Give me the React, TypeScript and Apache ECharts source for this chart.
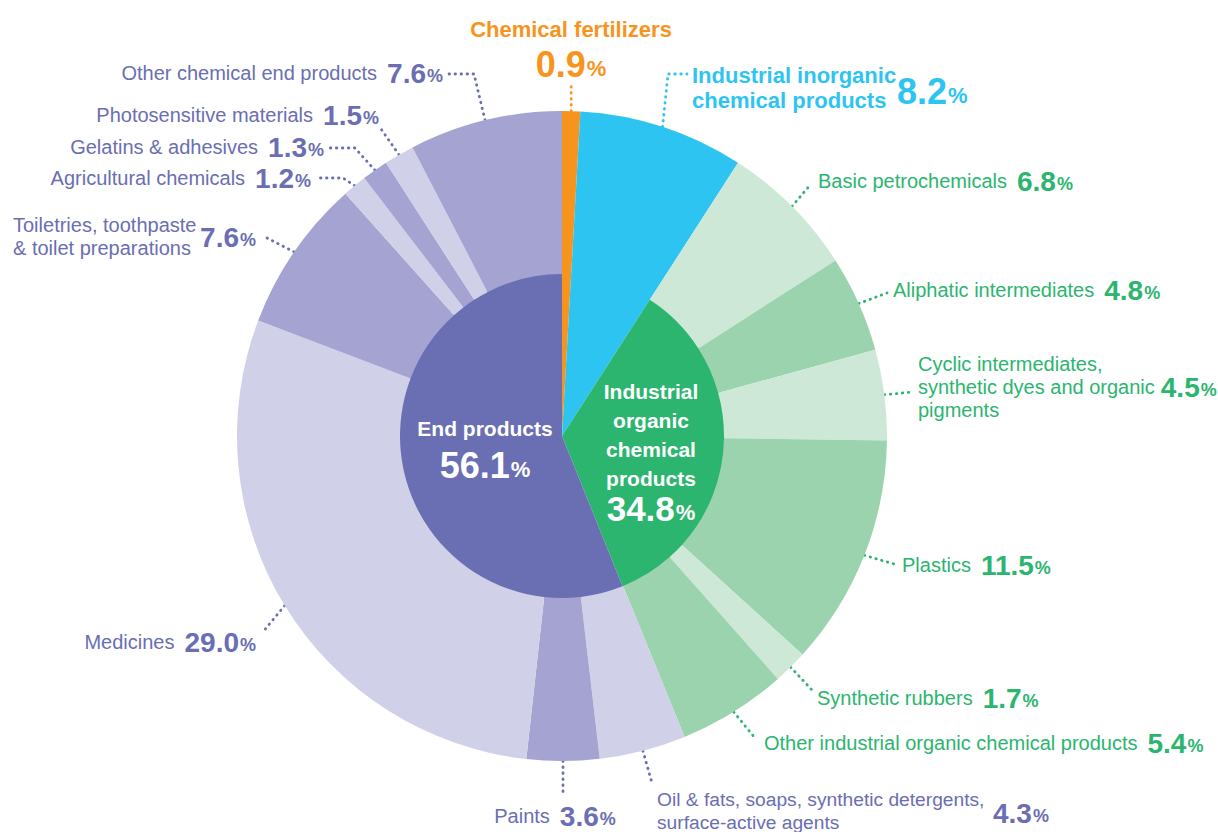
import React, { useEffect, useRef } from 'react';
import * as echarts from 'echarts';

// ---------- data ----------
const innerNames = [
  'Chemical fertilizers',
  'Industrial inorganic chemical products',
  'Industrial\norganic\nchemical\nproducts',
  'End products',
];
const innerValues = [0.9, 8.2, 34.8, 56.1];

const outerNames = [
  'Chemical fertilizers',
  'Industrial inorganic\nchemical products',
  'Basic petrochemicals',
  'Aliphatic intermediates',
  'Cyclic intermediates,\nsynthetic dyes and organic\npigments',
  'Plastics',
  'Synthetic rubbers',
  'Other industrial organic chemical products',
  'Oil & fats, soaps, synthetic detergents,\nsurface-active agents',
  'Paints',
  'Medicines',
  'Toiletries, toothpaste\n& toilet preparations',
  'Agricultural chemicals',
  'Gelatins & adhesives',
  'Photosensitive materials',
  'Other chemical end products',
];
const outerValues = [0.9, 8.2, 6.8, 4.8, 4.5, 11.5, 1.7, 5.4, 4.3, 3.6, 29.0, 7.6, 1.2, 1.3, 1.5, 7.6];
const outerGroups = ['fert', 'inorg', 'org', 'org', 'org', 'org', 'org', 'org', 'end', 'end', 'end', 'end', 'end', 'end', 'end', 'end'];

// ---------- styles ----------
const FONT = "'Liberation Sans', Arial, sans-serif";
const GROUP_COLOR: Record<string, string> = {
  fert: '#f7941d',
  inorg: '#2ec4f2',
  org: '#2bb56f',
  end: '#6a6eb2',
};
const SHADE_COLOR: Record<string, string> = {
  orgLight: '#cee8d7',
  orgMid: '#9ad3ae',
  endLight: '#d0d0e8',
  endMid: '#a4a3d1',
};
const outerShade = ['', '', 'Light', 'Mid', 'Light', 'Mid', 'Light', 'Mid', 'Light', 'Mid', 'Light', 'Mid', 'Light', 'Mid', 'Light', 'Mid'];
const innerTextColor = '#ffffff';

// label layout (positions of annotation texts and leader elbows)
type Pos = {
  x: number; y: number; align: string; pts?: number[][]; vert?: number; mode: string;
  valueLine?: number; gap?: number; nSize?: number;
};
const LABEL_POS: Pos[] = [
  { mode: 'title', x: 571, y: 48, align: 'center', vert: 82 },
  { mode: 'split', x: 692, y: 87.5, align: 'left', pts: [[668, 74], [687, 74]] },
  { mode: 'inline', x: 818, y: 181, align: 'left', pts: [[811, 184]] },
  { mode: 'inline', x: 893, y: 290, align: 'left', pts: [[887, 293]] },
  { mode: 'inline', x: 918, y: 387, align: 'left', pts: [[913, 392]], valueLine: 1, gap: 6 },
  { mode: 'inline', x: 902, y: 565, align: 'left', pts: [[894, 564]] },
  { mode: 'inline', x: 817, y: 698, align: 'left', pts: [[812, 690]] },
  { mode: 'inline', x: 764, y: 743, align: 'left', pts: [[755, 738]] },
  { mode: 'split', x: 657, y: 811, align: 'left', pts: [[652, 783]], nSize: 19.2 },
  { mode: 'inline', x: 555, y: 816, align: 'center', vert: 795 },
  { mode: 'inline', x: 256, y: 642, align: 'right', pts: [[262, 633]] },
  { mode: 'split', x: 13, y: 236, align: 'left', pts: [[265, 237]] },
  { mode: 'inline', x: 311, y: 178, align: 'right', pts: [[343, 178], [317, 178]] },
  { mode: 'inline', x: 324, y: 147, align: 'right', pts: [[355, 148], [329, 148]] },
  { mode: 'inline', x: 379, y: 115, align: 'right', pts: [[381, 129]] },
  { mode: 'inline', x: 443, y: 73, align: 'right', pts: [[474, 74], [448, 74]] },
];
const VALUE_POS: Record<number, { x: number; y: number; align: string }> = {
  1: { x: 897, y: 91, align: 'left' },
  8: { x: 993, y: 813, align: 'left' },
  11: { x: 256, y: 237, align: 'right' },
};
const INNER_POS: Record<number, { x: number; y: number }> = {
  2: { x: 651, y: 451 },
  3: { x: 485, y: 450 },
};

const CENTER = [562, 436];

function smallRich(color: string, gap = 10, nSize = 20) {
  return {
    n: { fontFamily: FONT, fontSize: nSize, color, lineHeight: 23 },
    v: { fontFamily: FONT, fontSize: 28, fontWeight: 'bold', color, lineHeight: 23, padding: [0, 0, 0, gap] },
    v0: { fontFamily: FONT, fontSize: 28, fontWeight: 'bold', color, lineHeight: 23 },
    p: { fontFamily: FONT, fontSize: 18, fontWeight: 'bold', color, lineHeight: 17, padding: [6, 0, 0, 1] },
  };
}
function bigRich(color: string, tSize: number, tLH: number, vSize: number, vLH: number) {
  return {
    t: { fontFamily: FONT, fontSize: tSize, fontWeight: 'bold', color, lineHeight: tLH },
    bv: { fontFamily: FONT, fontSize: vSize, fontWeight: 'bold', color, lineHeight: vLH },
    bp: { fontFamily: FONT, fontSize: 22, fontWeight: 'bold', color, lineHeight: vLH - 9, padding: [9, 0, 0, 1] },
  };
}

function fmt(v: number) {
  return v.toFixed(1);
}

function outerLabelText(i: number) {
  const pos = LABEL_POS[i];
  const lines = outerNames[i].split('\n');
  const val = fmt(outerValues[i]);
  if (pos.mode === 'title') {
    return lines.map((l) => `{t|${l}}`).join('\n') + `\n{bv|${val}}{bp|%}`;
  }
  if (pos.mode === 'split') {
    const key = outerGroups[i] === 'inorg' ? 't' : 'n';
    return lines.map((l) => `{${key}|${l}}`).join('\n');
  }
  const vl = pos.valueLine != null ? pos.valueLine : lines.length - 1;
  return lines
    .map((l, k) => (k === vl ? `{n|${l}}{v|${val}}{p|%}` : `{n|${l}}`))
    .join('\n');
}

function outerFill(i: number) {
  const g = outerGroups[i];
  if (g === 'fert' || g === 'inorg') return GROUP_COLOR[g];
  return SHADE_COLOR[g + outerShade[i]];
}

function outerRich(i: number) {
  const g = outerGroups[i];
  const c = GROUP_COLOR[g];
  const pos = LABEL_POS[i];
  if (g === 'fert') return bigRich(c, 22, 32, 36, 38);
  if (g === 'inorg') return bigRich(c, 22, 25, 36, 38);
  return smallRich(c, pos.gap != null ? pos.gap : 10, pos.nSize != null ? pos.nSize : 20);
}

const dotted = { type: [0.5, 5.5], width: 2.8, cap: 'round' };

function buildOption() {
  const innerData = innerNames.map((name, i) => {
    const g = ['fert', 'inorg', 'org', 'end'][i];
    const showLabel = INNER_POS[i] != null;
    const big = i === 3 ? bigRich(innerTextColor, 21, 30, 36, 44) : bigRich(innerTextColor, 21, 28.7, 35, 32);
    return {
      name,
      value: innerValues[i],
      itemStyle: { color: GROUP_COLOR[g] },
      label: showLabel
        ? {
            show: true,
            formatter: name.split('\n').map((l) => `{t|${l}}`).join('\n') + `\n{bv|${fmt(innerValues[i])}}{bp|%}`,
            rich: big,
          }
        : { show: false },
    };
  });

  const outerData = outerNames.map((name, i) => ({
    name,
    value: outerValues[i],
    itemStyle: { color: outerFill(i) },
    label: { show: true, formatter: outerLabelText(i), rich: outerRich(i) },
    labelLine: { show: true, lineStyle: { ...dotted, color: GROUP_COLOR[outerGroups[i]] } },
  }));

  const valueData = outerNames.map((name, i) => {
    const g = outerGroups[i];
    const c = GROUP_COLOR[g];
    const show = VALUE_POS[i] != null;
    return {
      name,
      value: outerValues[i],
      label: show
        ? {
            show: true,
            formatter: g === 'inorg' ? `{bv|${fmt(outerValues[i])}}{bp|%}` : `{v0|${fmt(outerValues[i])}}{p|%}`,
            rich: g === 'inorg' ? bigRich(c, 22, 25, 36, 38) : smallRich(c),
          }
        : { show: false },
    };
  });

  return {
    animation: false,
    backgroundColor: '#ffffff',
    series: [
      {
        type: 'pie',
        name: 'groups',
        center: CENTER,
        radius: [0, 163],
        startAngle: 90,
        clockwise: true,
        silent: true,
        avoidLabelOverlap: false,
        emphasis: { disabled: true },
        label: { position: 'inside' },
        labelLine: { show: false },
        labelLayout: (params: any) => {
          const p = INNER_POS[params.dataIndex];
          if (!p) return {};
          return { x: p.x, y: p.y, align: 'center', verticalAlign: 'middle' };
        },
        data: innerData,
      },
      {
        type: 'pie',
        name: 'detail',
        center: CENTER,
        radius: [162, 325],
        startAngle: 90,
        clockwise: true,
        silent: true,
        avoidLabelOverlap: false,
        emphasis: { disabled: true },
        label: { position: 'outside' },
        labelLine: { show: true, length: 10, length2: 10 },
        labelLayout: (params: any) => {
          const pos = LABEL_POS[params.dataIndex];
          const out: any = { x: pos.x, y: pos.y, align: pos.align, verticalAlign: 'middle' };
          const p0 = params.labelLinePoints && params.labelLinePoints[0];
          if (p0) {
            if (pos.vert != null) {
              out.labelLinePoints = [p0, [p0[0], pos.vert]];
            } else if (pos.pts) {
              const pts = [p0, ...pos.pts];
              while (pts.length < 3) pts.push(pts[pts.length - 1]);
              out.labelLinePoints = pts;
            }
          }
          return out;
        },
        data: outerData,
      },
      {
        type: 'pie',
        name: 'values',
        center: CENTER,
        radius: [0, 1],
        startAngle: 90,
        clockwise: true,
        silent: true,
        avoidLabelOverlap: false,
        emphasis: { disabled: true },
        itemStyle: { color: 'rgba(0,0,0,0)' },
        label: { show: false, position: 'outside' },
        labelLine: { show: false },
        labelLayout: (params: any) => {
          const p = VALUE_POS[params.dataIndex];
          if (!p) return {};
          return { x: p.x, y: p.y, align: p.align, verticalAlign: 'middle' };
        },
        data: valueData,
      },
    ],
  };
}

export default function App() {
  const ref = useRef<HTMLDivElement>(null);
  useEffect(() => {
    if (!ref.current) return;
    const chart = echarts.init(ref.current, null, { renderer: 'svg' });
    chart.setOption(buildOption() as any);
    return () => chart.dispose();
  }, []);
  return (
    <div
      ref={ref}
      style={{ position: 'fixed', left: 0, top: 0, width: 1218, height: 832, background: '#ffffff' }}
    />
  );
}
